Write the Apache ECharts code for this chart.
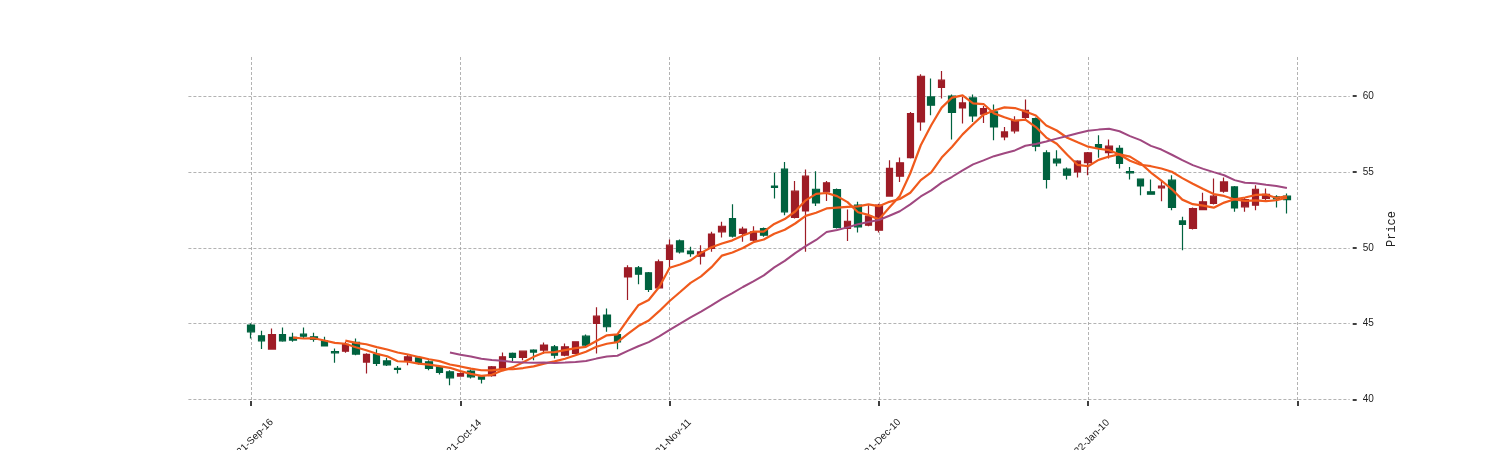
<!DOCTYPE html>
<html><head><meta charset="utf-8">
<script src="https://cdn.jsdelivr.net/npm/echarts@6/dist/echarts.min.js"></script>
<style>html,body{margin:0;padding:0;background:#fff}#c{width:1500px;height:450px}</style>
</head><body><div id="c"></div>
<script>
const dates = [
 '2021-Sep-16','2021-Sep-17','2021-Sep-20','2021-Sep-21','2021-Sep-22','2021-Sep-23','2021-Sep-24','2021-Sep-27','2021-Sep-28','2021-Sep-29',
 '2021-Sep-30','2021-Oct-01','2021-Oct-04','2021-Oct-05','2021-Oct-06','2021-Oct-07','2021-Oct-08','2021-Oct-11','2021-Oct-12','2021-Oct-13',
 '2021-Oct-14','2021-Oct-15','2021-Oct-18','2021-Oct-19','2021-Oct-20','2021-Oct-21','2021-Oct-22','2021-Oct-25','2021-Oct-26','2021-Oct-27',
 '2021-Oct-28','2021-Oct-29','2021-Nov-01','2021-Nov-02','2021-Nov-03','2021-Nov-04','2021-Nov-05','2021-Nov-08','2021-Nov-09','2021-Nov-10',
 '2021-Nov-11','2021-Nov-12','2021-Nov-15','2021-Nov-16','2021-Nov-17','2021-Nov-18','2021-Nov-19','2021-Nov-22','2021-Nov-23','2021-Nov-24',
 '2021-Nov-26','2021-Nov-29','2021-Nov-30','2021-Dec-01','2021-Dec-02','2021-Dec-03','2021-Dec-06','2021-Dec-07','2021-Dec-08','2021-Dec-09',
 '2021-Dec-10','2021-Dec-13','2021-Dec-14','2021-Dec-15','2021-Dec-16','2021-Dec-17','2021-Dec-20','2021-Dec-21','2021-Dec-22','2021-Dec-23',
 '2021-Dec-27','2021-Dec-28','2021-Dec-29','2021-Dec-30','2021-Dec-31','2022-Jan-03','2022-Jan-04','2022-Jan-05','2022-Jan-06','2022-Jan-07',
 '2022-Jan-10','2022-Jan-11','2022-Jan-12','2022-Jan-13','2022-Jan-14','2022-Jan-18','2022-Jan-19','2022-Jan-20','2022-Jan-21','2022-Jan-24',
 '2022-Jan-25','2022-Jan-26','2022-Jan-27','2022-Jan-28','2022-Jan-31','2022-Feb-01','2022-Feb-02','2022-Feb-03','2022-Feb-04','2022-Feb-07'
];
const opens = [
 44.90,44.19,43.32,44.28,44.09,44.30,44.13,43.86,43.16,43.18,
 43.76,42.46,42.97,42.54,42.04,42.54,42.74,42.48,42.15,41.82,
 41.54,41.87,41.49,41.56,42.04,43.03,42.77,43.25,43.25,43.47,
 42.92,43.03,44.17,45.01,45.56,44.28,48.08,48.68,48.35,47.36,
 49.23,50.45,49.78,49.44,49.95,51.05,51.93,50.94,50.50,51.27,
 54.06,55.18,52.00,52.43,53.86,53.69,53.84,51.27,52.81,51.49,
 51.16,53.41,54.72,55.95,58.30,59.95,60.57,60.00,59.22,59.88,
 58.81,58.96,57.31,57.71,58.59,58.52,56.26,55.84,55.18,55.00,
 55.62,56.81,56.28,56.55,55.03,54.52,53.69,53.95,54.46,51.77,
 51.27,52.52,52.92,53.73,54.01,52.70,52.81,53.25,53.36,53.40
];
const closes = [
 44.46,43.86,44.28,43.86,43.91,44.17,43.96,43.53,43.07,43.63,
 42.99,42.97,42.37,42.28,41.98,42.81,42.37,42.04,41.78,41.42,
 41.71,41.49,41.34,42.15,42.81,42.77,43.18,43.12,43.58,42.92,
 43.47,43.80,43.58,45.49,44.79,43.80,48.68,48.26,47.25,49.07,
 50.17,49.73,49.62,49.73,50.90,51.42,50.77,51.23,51.05,50.83,
 53.98,52.37,53.73,54.72,52.96,54.28,51.34,51.75,51.38,52.08,
 52.81,55.23,55.60,58.85,61.31,59.40,61.05,58.92,59.55,58.69,
 59.18,57.97,57.64,58.41,59.07,56.70,54.51,55.60,54.79,55.71,
 56.26,56.61,56.70,55.56,54.94,54.08,53.53,54.06,52.66,51.54,
 52.59,53.03,53.40,54.34,52.63,53.18,53.86,53.53,53.23,53.18
];
const lows = [
 44.02,43.32,43.30,43.80,43.80,44.02,43.80,43.53,42.41,43.07,
 42.92,41.71,42.20,42.20,41.71,42.26,42.31,41.93,41.65,40.94,
 41.50,41.38,41.05,41.49,42.04,42.54,42.59,42.59,42.99,42.70,
 42.85,42.99,43.47,43.03,44.46,43.30,46.55,47.60,47.09,47.36,
 48.60,49.62,49.40,48.90,49.73,50.68,50.68,50.39,50.44,50.72,
 53.25,52.15,51.93,49.73,52.76,53.09,51.27,50.44,51.01,51.42,
 51.00,53.41,54.34,55.89,57.71,58.74,59.84,57.14,58.20,58.30,
 58.23,57.09,57.09,57.53,58.46,56.37,53.91,55.38,54.50,54.63,
 54.78,55.93,55.89,55.23,54.50,53.47,53.53,53.07,52.48,49.84,
 51.21,52.48,52.85,53.62,52.37,52.37,52.48,53.03,52.66,52.26
];
const highs = [
 45.00,44.52,44.68,44.75,44.39,44.75,44.39,44.13,43.36,43.80,
 44.02,43.05,43.30,42.74,42.20,42.97,42.87,42.59,42.26,41.93,
 41.78,41.98,41.56,42.21,43.10,43.10,43.18,43.30,43.76,43.58,
 43.69,43.84,44.28,46.07,46.00,44.35,48.85,48.79,48.41,49.23,
 50.55,50.55,50.06,50.17,51.05,51.71,52.87,51.38,51.42,51.34,
 54.94,55.66,54.41,55.16,55.05,54.41,53.91,52.52,53.03,52.81,
 52.90,55.77,55.95,58.96,61.44,61.16,61.66,60.11,59.95,60.11,
 59.35,59.45,57.97,58.68,59.77,58.59,56.43,56.43,55.29,55.77,
 56.32,57.42,57.14,56.76,55.33,54.57,54.50,54.46,54.79,52.04,
 52.66,53.62,54.57,54.63,54.08,53.29,54.12,53.91,53.47,53.58
];
const maPeriods = [5, 10, 20];
const maColors = ['#f05a1c', '#f05a1c', '#a04880'];
const yTickValues = [40, 45, 50, 55, 60];

const PAD_BEFORE = 6, PAD_AFTER = 6;
const cats = [];
for (let i = 0; i < PAD_BEFORE; i++) cats.push('padL' + i);
dates.forEach(d => cats.push(d));
for (let i = 0; i < PAD_AFTER; i++) cats.push('padR' + i);

const candleData = [];
for (let i = 0; i < PAD_BEFORE; i++) candleData.push('-');
for (let i = 0; i < dates.length; i++) candleData.push([opens[i], closes[i], lows[i], highs[i]]);
for (let i = 0; i < PAD_AFTER; i++) candleData.push('-');

function movingAverage(p) {
  const out = [];
  for (let i = 0; i < PAD_BEFORE; i++) out.push('-');
  for (let i = 0; i < closes.length; i++) {
    if (i < p - 1) { out.push('-'); continue; }
    let s = 0;
    for (let j = i - p + 1; j <= i; j++) s += closes[j];
    out.push(+(s / p).toFixed(3));
  }
  for (let i = 0; i < PAD_AFTER; i++) out.push('-');
  return out;
}

const tickEvery = (idx) => idx >= PAD_BEFORE && (idx - PAD_BEFORE) % 20 === 0;

const series = [{
  type: 'candlestick',
  data: candleData,
  barWidth: 7,
  itemStyle: {
    color: '#9e1c26', color0: '#00623f',
    borderColor: '#9e1c26', borderColor0: '#00623f', borderWidth: 1.2
  },
  z: 2
}];
maPeriods.forEach((p, k) => {
  series.push({
    type: 'line', data: movingAverage(p), showSymbol: false, symbol: 'none',
    lineStyle: { color: maColors[k], width: k < 2 ? 2.2 : 2 },
    z: 3
  });
});

const chart = echarts.init(document.getElementById('c'), null, { renderer: 'canvas' });
chart.setOption({
  animation: false,
  backgroundColor: '#fff',
  grid: { left: 188.4, right: 150.3, top: 57, bottom: 49, containLabel: false, outerBoundsMode: 'none' },
  xAxis: {
    type: 'category', data: cats, boundaryGap: false,
    axisLine: { show: false },
    axisTick: { show: true, interval: tickEvery, length: 5, lineStyle: { color: '#000', width: 1.5 } },
    axisLabel: {
      interval: tickEvery, rotate: 45, align: 'center', verticalAlign: 'middle', margin: 40,
      fontFamily: 'Liberation Sans', fontSize: 10, color: '#222',
      formatter: v => v.startsWith('pad') ? '' : v
    },
    splitLine: { show: true, interval: tickEvery, lineStyle: { color: '#a0a0a0', type: [3, 2], width: 0.8 } }
  },
  yAxis: {
    type: 'value', position: 'right', scale: true, offset: 3,
    min: 39.895, max: 62.58,
    name: 'Price', nameLocation: 'middle', nameGap: 33, nameRotate: 90,
    nameTextStyle: { fontFamily: 'Liberation Mono', fontSize: 12, color: '#222' },
    axisLine: { show: false },
    axisTick: { show: true, length: 4, customValues: yTickValues, lineStyle: { color: '#000', width: 1.5 } },
    axisLabel: { customValues: yTickValues, margin: 10, fontFamily: 'Liberation Sans', fontSize: 10, color: '#222' },
    splitLine: { show: true, showMinLine: true, showMaxLine: true, lineStyle: { color: '#a0a0a0', type: [3, 2], width: 0.8 } }
  },
  series: series
});
</script>
</body></html>
